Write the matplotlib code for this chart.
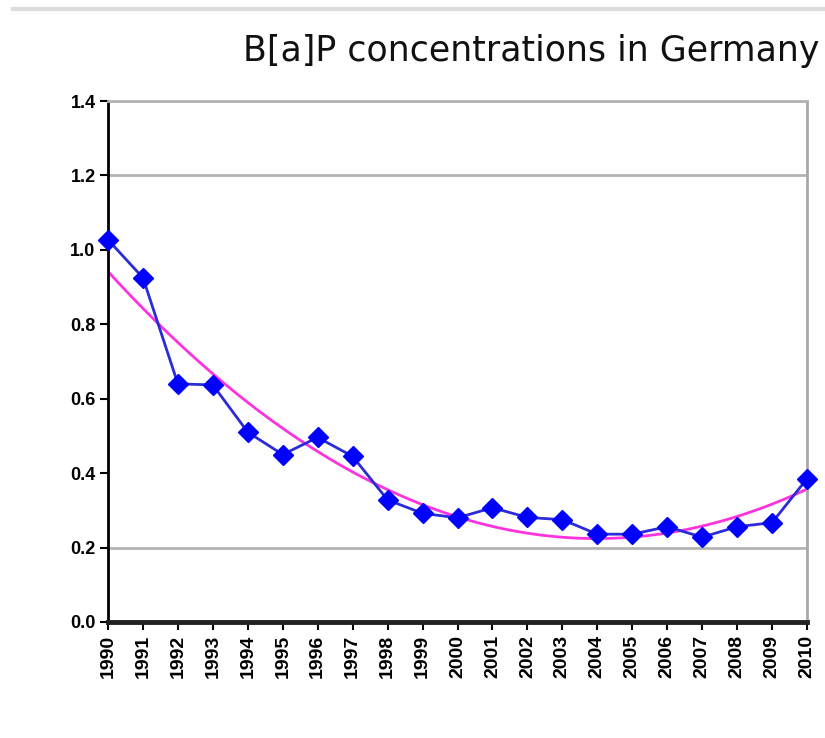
import matplotlib
matplotlib.use("Agg")
import matplotlib.pyplot as plt
import numpy as np
from matplotlib.lines import Line2D

years = [1990, 1991, 1992, 1993, 1994, 1995, 1996, 1997, 1998, 1999, 2000,
         2001, 2002, 2003, 2004, 2005, 2006, 2007, 2008, 2009, 2010]
bap = [1.027, 0.925, 0.640, 0.637, 0.510, 0.450, 0.496, 0.445, 0.328, 0.292, 0.280,
       0.307, 0.281, 0.275, 0.236, 0.236, 0.256, 0.228, 0.256, 0.267, 0.385]
y_ticks = [0.0, 0.2, 0.4, 0.6, 0.8, 1.0, 1.2, 1.4]
y_labels = ["0.0", "0.2", "0.4", "0.6", "0.8", "1.0", "1.2", "1.4"]
visible_grid = [0.2, 1.2, 1.4]
title = "B[a]P concentrations in Germany"

plt.rcParams['font.family'] = ['Liberation Sans', 'DejaVu Sans']

fig = plt.figure(figsize=(8.25, 7.38), dpi=100)
ax = fig.add_axes([108/825, 1-622/738, (807-108)/825, (622-101)/738])

x = np.arange(len(years))
# polynomial trend line (order 2), as in the spreadsheet chart
coef = np.polyfit(x, bap, 2)
xs = np.linspace(0, len(years)-1, 300)
ax.plot(xs, np.polyval(coef, xs), color='#ff33dd', lw=2.0, zorder=2)

ax.plot(x, bap, color='#2b2bd9', lw=2.0, marker='D', markersize=10,
        markerfacecolor='#0000ff', markeredgecolor='#0000ff', zorder=3, clip_on=False)

ax.set_xlim(0, len(years)-1)
ax.set_ylim(0, 1.4)
ax.set_yticks(y_ticks)
ax.set_yticklabels(y_labels, fontsize=13)
ax.set_xticks(x)
ax.set_xticklabels([str(y) for y in years], rotation=90, fontsize=14)

ax.tick_params(axis='both', direction='out', length=6, width=1.5, color='black', pad=3)
for t in ax.get_xticklabels() + ax.get_yticklabels():
    t.set_fontweight('bold')

for val in visible_grid:
    ax.axhline(val, color='#b4b4b4', lw=2.0, zorder=1)

ax.spines['left'].set_color('black')
ax.spines['left'].set_linewidth(2.0)
ax.spines['bottom'].set_color('#222222')
ax.spines['bottom'].set_linewidth(3.5)
ax.spines['right'].set_color('#a8a8a8')
ax.spines['right'].set_linewidth(2.0)
ax.spines['top'].set_color('#b4b4b4')
ax.spines['top'].set_linewidth(2.0)

fig.text(243/825, 1-51/738, title, fontsize=25, ha='left', va='center', color='#111111',
         family=['DejaVu Sans'])

fig.add_artist(Line2D([13/825, 1.0], [1-9/738, 1-9/738], transform=fig.transFigure,
                      color='#dcdcdc', lw=3))

fig.savefig("out.png", dpi=100)
